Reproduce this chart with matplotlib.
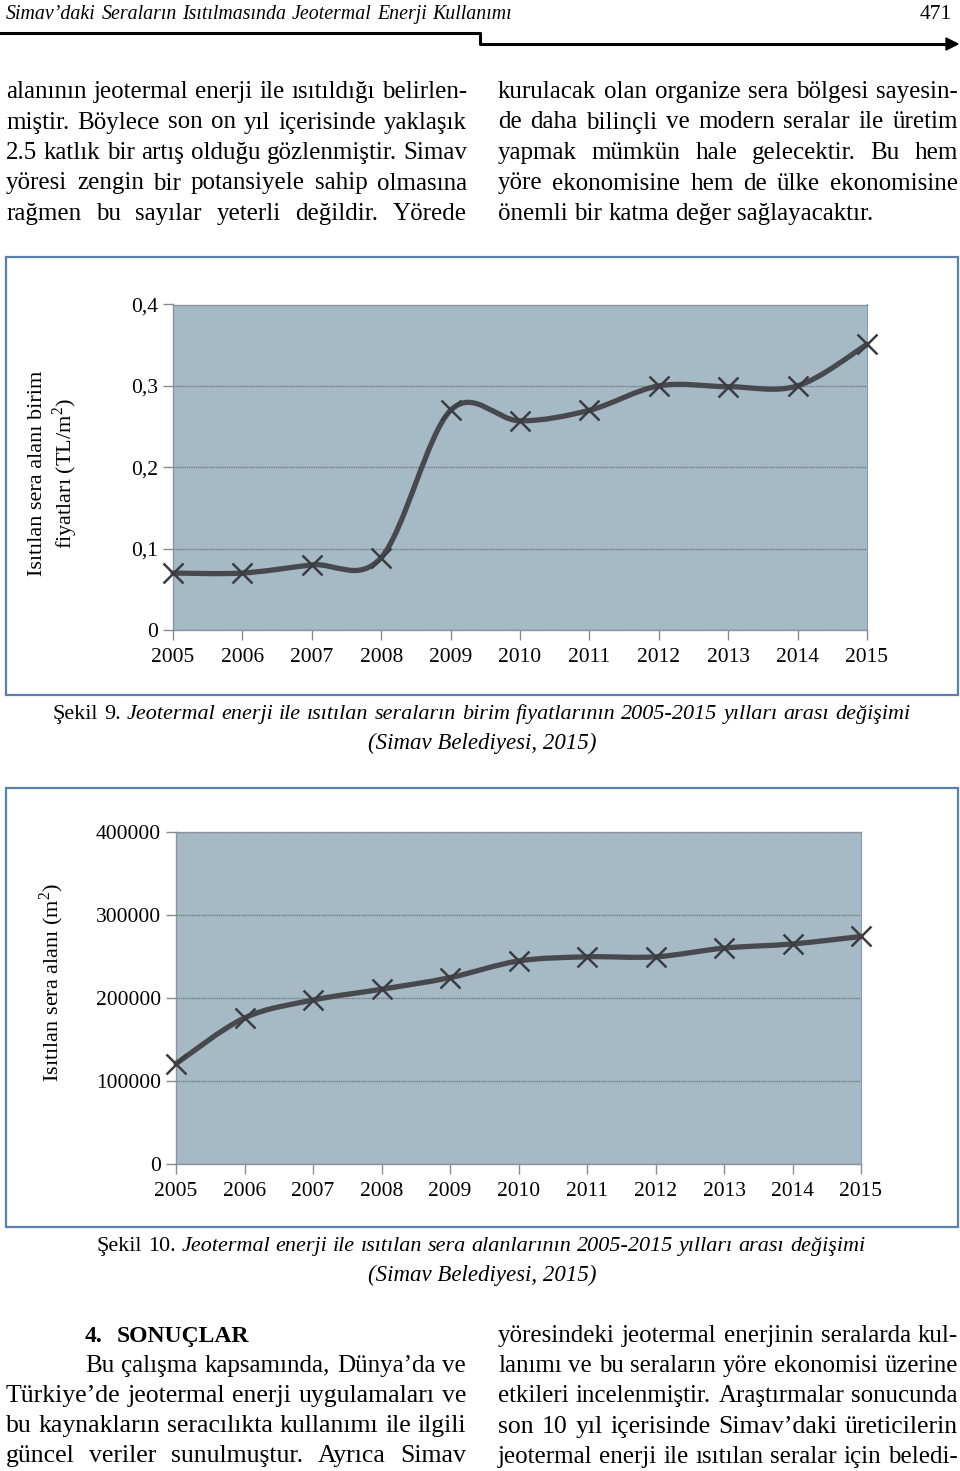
import numpy as np
import matplotlib
matplotlib.use("Agg")
import matplotlib.pyplot as plt
from matplotlib.path import Path
from matplotlib.patches import PathPatch, Rectangle, Polygon
from matplotlib.lines import Line2D

W, H = 960, 1471

years = [2005, 2006, 2007, 2008, 2009, 2010, 2011, 2012, 2013, 2014, 2015]
price = [0.07, 0.07, 0.08, 0.089, 0.27, 0.257, 0.27, 0.30, 0.299, 0.30, 0.351]
area = [121000, 176000, 197500, 210500, 224500, 244500, 249500, 249500, 260000, 265000, 274000]

price_ticks = [0, 0.1, 0.2, 0.3, 0.4]
price_ticklabels = ["0", "0,1", "0,2", "0,3", "0,4"]
area_ticks = [0, 100000, 200000, 300000, 400000]
area_ticklabels = ["0", "100000", "200000", "300000", "400000"]

top_left = [
    "alanının jeotermal enerji ile ısıtıldığı belirlen-",
    "miştir. Böylece son on yıl içerisinde yaklaşık",
    "2.5 katlık bir artış olduğu gözlenmiştir. Simav",
    "yöresi zengin bir potansiyele sahip olmasına",
    "rağmen bu sayılar yeterli değildir. Yörede",
]
top_right = [
    "kurulacak olan organize sera bölgesi sayesin-",
    "de daha bilinçli ve modern seralar ile üretim",
    "yapmak mümkün hale gelecektir. Bu hem",
    "yöre ekonomisine hem de ülke ekonomisine",
    "önemli bir katma değer sağlayacaktır.",
]
bot_left = [
    "Türkiye’de jeotermal enerji uygulamaları ve",
    "bu kaynakların seracılıkta kullanımı ile ilgili",
    "güncel veriler sunulmuştur. Ayrıca Simav",
]
bot_right = [
    "yöresindeki jeotermal enerjinin seralarda kul-",
    "lanımı ve bu seraların yöre ekonomisi üzerine",
    "etkileri incelenmiştir. Araştırmalar sonucunda",
    "son 10 yıl içerisinde Simav’daki üreticilerin",
    "jeotermal enerji ile ısıtılan seralar için beledi-",
]

SERIF = "Liberation Serif"
plt.rcParams["font.family"] = [SERIF, "DejaVu Serif"]
plt.rcParams["mathtext.fontset"] = "custom"
plt.rcParams["mathtext.rm"] = SERIF

fig = plt.figure(figsize=(W / 100, H / 100), dpi=100)
fig.patch.set_facecolor("white")
rend = fig.canvas.get_renderer()


def fx(x):
    return x / W


def fy(y):
    return 1 - y / H


def put_line(words, x0, x1, ybase, size, justify=True, **kw):
    # words: list of (word, style dict) or a plain string
    if isinstance(words, str):
        words = [(w, {}) for w in words.split()]
    while True:
        arts, widths = [], []
        for w, st in words:
            opts = dict(kw)
            opts.update(st)
            t = fig.text(0, 0, w, fontsize=size, va="baseline", ha="left", **opts)
            arts.append(t)
            widths.append(t.get_window_extent(renderer=rend).width)
        space = 0.25 * size * 100 / 72
        need = sum(widths) + (len(arts) - 1) * space
        if not justify or need <= x1 - x0 or size < 8:
            break
        for t in arts:
            t.remove()
        size *= (x1 - x0) / need * 0.995
    if justify and len(arts) > 1:
        gap = (x1 - x0 - sum(widths)) / (len(arts) - 1)
    else:
        gap = space
    x = x0
    for t, w in zip(arts, widths):
        t.set_position((fx(x), fy(ybase)))
        x += w + gap


# header
put_line("Simav’daki Seraların Isıtılmasında Jeotermal Enerji Kullanımı", 6, 512, 19, 15,
         style="italic")
fig.text(fx(952), fy(19), "471", fontsize=15.5, ha="right", va="baseline")
fig.add_artist(Line2D([fx(0), fx(480), fx(480), fx(948)], [fy(33), fy(33), fy(44), fy(44)],
                      color="black", lw=2.2, transform=fig.transFigure))
fig.add_artist(Polygon([(fx(946), fy(38)), (fx(958), fy(44)), (fx(946), fy(50))],
                       closed=True, color="black", transform=fig.transFigure))

# top paragraph
for i, ln in enumerate(top_left):
    put_line(ln, 6, 467, 98 + i * 30.5, 18)
for i, ln in enumerate(top_right):
    put_line(ln, 498, 958, 98 + i * 30.5, 18, justify=(i < 4))


def smooth_path(xs, ys):
    xs = np.asarray(xs, float)
    ys = np.asarray(ys, float)
    n = len(xs)
    verts = [(xs[0], ys[0])]
    codes = [Path.MOVETO]
    for i in range(n - 1):
        p0 = i - 1 if i > 0 else 0
        p3 = i + 2 if i + 2 < n else n - 1
        c1 = (xs[i] + (xs[i + 1] - xs[p0]) / 6, ys[i] + (ys[i + 1] - ys[p0]) / 6)
        c2 = (xs[i + 1] - (xs[p3] - xs[i]) / 6, ys[i + 1] - (ys[p3] - ys[i]) / 6)
        verts += [c1, c2, (xs[i + 1], ys[i + 1])]
        codes += [Path.CURVE4] * 3
    return Path(verts, codes)


def chart(frame, box, values, ticks, ticklabels, ylim):
    l, t, r, b = frame
    fig.add_artist(Rectangle((fx(l), fy(b)), fx(r) - fx(l), fy(t) - fy(b), fill=False,
                             edgecolor="#5a80ad", lw=1.6, transform=fig.transFigure))
    al, at, ar, ab = box
    ax = fig.add_axes([fx(al), fy(ab), fx(ar) - fx(al), fy(at) - fy(ab)])
    ax.set_facecolor("#a6bac5")
    ax.set_xlim(years[0], years[-1])
    ax.set_ylim(*ylim)
    ax.set_yticks(ticks)
    ax.set_yticklabels(ticklabels)
    ax.set_xticks(years)
    ax.set_xticklabels([str(y) for y in years])
    ax.tick_params(axis="y", length=7, width=1, color="#8a8a8a", pad=4, labelsize=15.5)
    ax.tick_params(axis="x", length=7, width=1, color="#8a8a8a", pad=6, labelsize=15.5)
    for s in ["left", "bottom", "top"]:
        ax.spines[s].set_color("#8a949a")
        ax.spines[s].set_linewidth(1)
    ax.spines["right"].set_color("#7f9cc0")
    ax.spines["right"].set_linewidth(0.8)
    ax.grid(axis="y", color="#6f7d85", lw=1, ls=(0, (1, 0.6)))
    ax.set_axisbelow(True)
    ax.add_patch(PathPatch(smooth_path(years, values), fill=False, edgecolor="#47494e",
                           lw=3.8, capstyle="round", joinstyle="round", clip_on=False, zorder=3))
    ax.plot(years, values, ls="none", marker="x", ms=15, mew=1.8, color="#3c3d42",
            clip_on=False, zorder=4)
    return ax


# Şekil 9
chart((6, 257, 958, 695), (173, 304.5, 867, 630), price, price_ticks, price_ticklabels, (0, 0.4))
fig.text(fx(54), fy(473), "Isıtılan sera alanı birim\nfiyatları (TL/m$^2$)", rotation=90,
         ha="center", va="center", multialignment="center", fontsize=16, linespacing=1.2)
cap9 = [("Şekil", {}), ("9.", {})] + [(w, {"style": "italic"}) for w in
        "Jeotermal enerji ile ısıtılan seraların birim fiyatlarının 2005-2015 yılları arası değişimi".split()]
put_line(cap9, 53, 910, 719, 16.5)
fig.text(fx(482), fy(749), "(Simav Belediyesi, 2015)", fontsize=16.5, style="italic",
         ha="center", va="baseline")

# Şekil 10
chart((6, 788, 958, 1227), (176, 831.7, 861, 1164.3), area, area_ticks, area_ticklabels,
      (0, 400000))
fig.text(fx(52), fy(982), "Isıtılan sera alanı (m$^2$)", rotation=90, ha="center", va="center",
         fontsize=16)
cap10 = [("Şekil", {}), ("10.", {})] + [(w, {"style": "italic"}) for w in
         "Jeotermal enerji ile ısıtılan sera alanlarının 2005-2015 yılları arası değişimi".split()]
put_line(cap10, 97, 865, 1251, 16.5)
fig.text(fx(482), fy(1281), "(Simav Belediyesi, 2015)", fontsize=16.5, style="italic",
         ha="center", va="baseline")

# 4. SONUÇLAR
fig.text(fx(85), fy(1342), "4.", fontsize=17, fontweight="bold", va="baseline")
fig.text(fx(117), fy(1342), "SONUÇLAR", fontsize=17, fontweight="bold", va="baseline")
put_line("Bu çalışma kapsamında, Dünya’da ve", 85, 466, 1372, 18.5)
for i, ln in enumerate(bot_left):
    put_line(ln, 6, 466, 1402 + i * 30.2, 18.5)
for i, ln in enumerate(bot_right):
    put_line(ln, 498, 958, 1342 + i * 30.2, 18.5)

fig.savefig("out.png", dpi=100)
